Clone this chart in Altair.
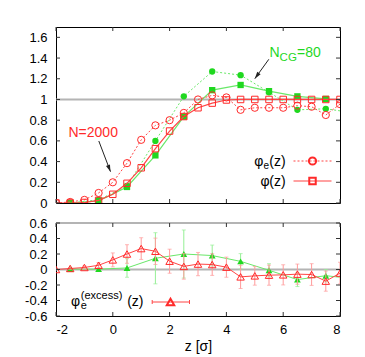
import altair as alt
import pandas as pd

# ---------------- data ----------------
z_half = [-2.0, -1.5, -1.0, -0.5, 0.0, 0.5, 1.0, 1.5, 2.0, 2.5, 3.0, 3.5, 4.0,
          4.5, 5.0, 5.5, 6.0, 6.5, 7.0, 7.5, 8.0]
phi_e_2000 = [0.0, 0.01, 0.03, 0.097, 0.20, 0.385, 0.61, 0.75, 0.80, 0.87, 1.0,
              1.04, 1.02, 0.90, 0.92, 0.92, 0.92, 0.94, 0.93, 0.85, 0.955]
phi_2000 = [0.0, 0.0, 0.005, 0.025, 0.084, 0.19, 0.34, 0.525, 0.695, 0.835, 0.92,
            0.965, 0.995, 1.0, 1.0, 1.0, 1.0, 1.0, 1.0, 1.0, 1.0]

z_cg = [-1.5, -0.5, 0.5, 1.5, 2.5, 3.5, 4.5, 5.5, 6.5, 7.5, 8.5]
phi_e_80 = [0.0, 0.03, 0.165, 0.60, 1.03, 1.27, 1.235, 1.07, 0.90, 0.91, 0.87]
z_cg_phi = [-1.5, -0.5, 0.5, 1.5, 2.5, 3.5, 4.5, 5.5, 6.5, 7.5]
phi_80 = [0.0, 0.02, 0.155, 0.46, 0.835, 1.09, 1.14, 1.08, 1.03, 1.005]

excess_2000 = [0.0, 0.013, 0.026, 0.055, 0.124, 0.20, 0.27, 0.235, 0.107, 0.04, 0.07,
               0.064, 0.03, -0.095, -0.082, -0.073, -0.069, -0.06, -0.065, -0.15, -0.047]
err_2000 = [0.0, 0.01, 0.02, 0.035, 0.09, 0.12, 0.14, 0.17, 0.155, 0.165, 0.15,
            0.14, 0.13, 0.15, 0.12, 0.13, 0.13, 0.13, 0.14, 0.13, 0.14]
excess_80 = [0.005, 0.005, 0.02, 0.145, 0.20, 0.18, 0.105, -0.01, -0.13, -0.08, -0.12]
err_80 = [0.005, 0.01, 0.12, 0.33, 0.31, 0.135, 0.10, 0.085, 0.09, 0.08, 0.08]

top_yticks = [0, 0.2, 0.4, 0.6, 0.8, 1.0, 1.2, 1.4, 1.6]
bot_yticks = [-0.6, -0.4, -0.2, 0, 0.2, 0.4, 0.6]
x_ticks = [-2, 0, 2, 4, 6, 8]
top_ref = [1.0]
bot_ref = [0.0, 0.6]

# ---------------- styling ----------------
FONT = "Liberation Sans"
RED = "#ff2a2a"
RED_LINE = "#ff4545"
RED_ERR = "#ff9a9a"
GREEN = "#1fd81f"
GREEN_LINE = "#6ae86a"
GREEN_ERR = "#95ef95"
GRAY = "#b4b4b4"
TICK = "#333333"

W = 284
H1 = 176
H2 = 93

xscale = alt.Scale(domain=[-2, 8], nice=False, zero=False)
y1scale = alt.Scale(domain=[0, 1.7], nice=False, zero=False)
y2scale = alt.Scale(domain=[-0.6, 0.6], nice=False, zero=False)

y1axis = alt.Axis(values=top_yticks, ticks=False, domain=False, grid=False, title=None,
                  labelPadding=9, minExtent=42, maxExtent=42,
                  labelExpr="datum.value == 0 ? '0' : format(datum.value, '.1~f')")
y2axis = alt.Axis(values=bot_yticks, ticks=False, domain=False, grid=False, title=None,
                  labelPadding=9, minExtent=42, maxExtent=42,
                  labelExpr="(datum.value < 0 ? '-' : '') + format(abs(datum.value), '.1~f')")
x2axis = alt.Axis(values=x_ticks, ticks=False, domain=False, grid=False, title="z [σ]",
                  labelPadding=7, titlePadding=3, titleFontSize=14,
                  labelExpr="(datum.value < 0 ? '-' : '') + format(abs(datum.value), 'd')")

ONE = alt.Data(values=[{"a": 1}])


def X1(f):
    return alt.X(f, type="quantitative", scale=xscale, axis=None)


def Y1(f):
    return alt.Y(f, type="quantitative", scale=y1scale, axis=y1axis)


def X2(f):
    return alt.X(f, type="quantitative", scale=xscale, axis=x2axis)


def Y2(f):
    return alt.Y(f, type="quantitative", scale=y2scale, axis=y2axis)


def txt(text, x, y, size=14, color="black", align="left"):
    return alt.Chart(ONE).mark_text(text=text, fontSize=size, font=FONT, color=color,
                                    align=align, baseline="alphabetic").encode(
        x=alt.value(x), y=alt.value(y))


def arrow(x0, y0, x1, y1, angle):
    line = alt.Chart(ONE).mark_rule(color="#222222", strokeWidth=1).encode(
        x=alt.value(x0), y=alt.value(y0), x2=alt.value(x1), y2=alt.value(y1))
    head = alt.Chart(ONE).mark_point(shape="M0,0L-0.3,1L0.3,1Z", filled=True, size=196,
                                     color="#222222", opacity=1, angle=angle).encode(
        x=alt.value(x1), y=alt.value(y1))
    return line + head


def inward_ticks(XF, YF, yticks, h):
    ydf = pd.DataFrame({"t": yticks})
    xdf = pd.DataFrame({"t": x_ticks})
    yl = alt.Chart(ydf).mark_rule(color=TICK, strokeWidth=1).encode(
        y=YF("t"), x=alt.value(0), x2=alt.value(4))
    yr = alt.Chart(ydf).mark_rule(color=TICK, strokeWidth=1).encode(
        y=YF("t"), x=alt.value(W - 4), x2=alt.value(W))
    xt = alt.Chart(xdf).mark_rule(color=TICK, strokeWidth=1).encode(
        x=XF("t"), y=alt.value(0), y2=alt.value(4))
    xb = alt.Chart(xdf).mark_rule(color=TICK, strokeWidth=1).encode(
        x=XF("t"), y=alt.value(h - 4), y2=alt.value(h))
    return yl + yr + xt + xb


# ---------------- top panel ----------------
df_2000 = pd.DataFrame({"z": z_half, "pe": phi_e_2000, "p": phi_2000})
df_80e = pd.DataFrame({"z": z_cg, "pe": phi_e_80})
df_80 = pd.DataFrame({"z": z_cg_phi, "p": phi_80})
df_ref1 = pd.DataFrame({"r": top_ref})

ref1 = alt.Chart(df_ref1).mark_rule(color=GRAY, strokeWidth=2).encode(y=Y1("r"))

g_e_line = alt.Chart(df_80e).mark_line(color=GREEN_LINE, strokeWidth=1, strokeDash=[2, 2],
                                       clip=True).encode(x=X1("z"), y=Y1("pe"))
g_e_pts = alt.Chart(df_80e).mark_point(shape="circle", filled=True, size=40, color=GREEN,
                                       opacity=1, clip=True).encode(x=X1("z"), y=Y1("pe"))
g_line = alt.Chart(df_80).mark_line(color=GREEN_LINE, strokeWidth=1.2,
                                    clip=True).encode(x=X1("z"), y=Y1("p"))
g_pts = alt.Chart(df_80).mark_point(shape="square", filled=True, size=40, color=GREEN,
                                    opacity=1, clip=True).encode(x=X1("z"), y=Y1("p"))

r_e_line = alt.Chart(df_2000).mark_line(color=RED_LINE, strokeWidth=1, strokeDash=[2, 2],
                                        clip=True).encode(x=X1("z"), y=Y1("pe"))
r_e_pts = alt.Chart(df_2000).mark_point(shape="circle", filled=False, size=52, color=RED,
                                        strokeWidth=1, opacity=1, clip=True).encode(
    x=X1("z"), y=Y1("pe"))
r_line = alt.Chart(df_2000).mark_line(color=RED_LINE, strokeWidth=1.2,
                                      clip=True).encode(x=X1("z"), y=Y1("p"))
r_pts = alt.Chart(df_2000).mark_point(shape="square", filled=False, size=42, color=RED,
                                      strokeWidth=1, opacity=1, clip=True).encode(
    x=X1("z"), y=Y1("p"))

# annotations (pixel positions inside the top plot area)
ann_top = (
    txt("N=2000", 12.5, 110, color=RED)
    + arrow(42.8, 114, 54.5, 144.7, 159)
    + txt("N", 213.5, 30, color=GREEN)
    + txt("CG", 223.6, 34, size=11.5, color=GREEN)
    + txt("=80", 241, 30, color=GREEN)
    + arrow(212.8, 32.3, 198.8, 51.7, 216)
)

# legend
leg_top = (
    txt("φ", 198.3, 139)
    + txt("e", 207.4, 141.5, size=10)
    + txt("(z)", 213.3, 139)
    + alt.Chart(ONE).mark_rule(color=RED_LINE, strokeWidth=1, strokeDash=[2, 2]).encode(
        x=alt.value(237.5), x2=alt.value(275.5), y=alt.value(134))
    + alt.Chart(ONE).mark_point(shape="circle", filled=False, size=52, color=RED,
                                opacity=1).encode(x=alt.value(256.5), y=alt.value(134))
    + txt("φ", 204.5, 159)
    + txt("(z)", 213.3, 159)
    + alt.Chart(ONE).mark_rule(color=RED_LINE, strokeWidth=1.2).encode(
        x=alt.value(237.5), x2=alt.value(275.5), y=alt.value(154))
    + alt.Chart(ONE).mark_point(shape="square", filled=False, size=42, color=RED,
                                opacity=1).encode(x=alt.value(256.5), y=alt.value(154))
)

top = alt.layer(
    ref1, g_e_line, g_line, g_e_pts, g_pts, r_e_line, r_line, r_e_pts, r_pts,
    inward_ticks(X1, Y1, top_yticks, H1), ann_top, leg_top
).properties(width=W, height=H1)

# ---------------- bottom panel ----------------
df_ex2000 = pd.DataFrame({"z": z_half, "v": excess_2000, "e": err_2000})
df_ex2000["lo"] = df_ex2000["v"] - df_ex2000["e"]
df_ex2000["hi"] = df_ex2000["v"] + df_ex2000["e"]
df_ex80 = pd.DataFrame({"z": z_cg, "v": excess_80, "e": err_80})
df_ex80["lo"] = df_ex80["v"] - df_ex80["e"]
df_ex80["hi"] = df_ex80["v"] + df_ex80["e"]
df_ref2 = pd.DataFrame({"r": bot_ref})

ref2 = alt.Chart(df_ref2).mark_rule(color=GRAY, strokeWidth=2).encode(y=Y2("r"))


def err_layers(df, col_err, col_line, col_pt, filled, size):
    bars = alt.Chart(df).mark_rule(color=col_err, strokeWidth=1, clip=True).encode(
        x=X2("z"), y=Y2("lo"), y2="hi")
    cap_lo = alt.Chart(df).mark_tick(color=col_err, orient="horizontal", size=4,
                                     thickness=1, clip=True).encode(x=X2("z"), y=Y2("lo"))
    cap_hi = alt.Chart(df).mark_tick(color=col_err, orient="horizontal", size=4,
                                     thickness=1, clip=True).encode(x=X2("z"), y=Y2("hi"))
    line = alt.Chart(df).mark_line(color=col_line, strokeWidth=1, clip=True).encode(
        x=X2("z"), y=Y2("v"))
    pts = alt.Chart(df).mark_point(shape="triangle-up", filled=filled, size=size,
                                   color=col_pt, strokeWidth=1, opacity=1,
                                   clip=True).encode(x=X2("z"), y=Y2("v"))
    return bars + cap_lo + cap_hi + line + pts


green_ex = err_layers(df_ex80, GREEN_ERR, GREEN_LINE, GREEN, True, 46)
red_ex = err_layers(df_ex2000, RED_ERR, RED_LINE, RED, False, 56)

leg_bot = (
    txt("φ", 15, 82.5)
    + txt("e", 24.8, 85.5, size=11)
    + txt("(excess)", 24.8, 76.4, size=11)
    + txt("(z)", 71.2, 82.5)
    + alt.Chart(ONE).mark_rule(color=RED_LINE, strokeWidth=1).encode(
        x=alt.value(96.2), x2=alt.value(133.5), y=alt.value(79))
    + alt.Chart(ONE).mark_rule(color=RED_LINE, strokeWidth=1).encode(
        x=alt.value(96.2), y=alt.value(77), y2=alt.value(81))
    + alt.Chart(ONE).mark_rule(color=RED_LINE, strokeWidth=1).encode(
        x=alt.value(133.5), y=alt.value(77), y2=alt.value(81))
    + alt.Chart(ONE).mark_point(shape="triangle-up", filled=False, size=56, color=RED,
                                opacity=1).encode(x=alt.value(114.5), y=alt.value(79))
)

bottom = alt.layer(
    ref2, green_ex, red_ex, inward_ticks(X2, Y2, bot_yticks, H2), leg_bot
).properties(width=W, height=H2)

chart = alt.vconcat(top, bottom, spacing=5).properties(
    padding={"left": 5, "top": 18, "right": 5, "bottom": 5}
).configure_view(
    stroke="black", strokeWidth=1
).configure_axis(
    labelFont=FONT, titleFont=FONT, labelFontSize=13, titleFontSize=14,
    labelColor="black", titleColor="black", titleFontWeight="normal"
)

chart.save("out.html", embed_options={"renderer": "svg", "actions": False})
